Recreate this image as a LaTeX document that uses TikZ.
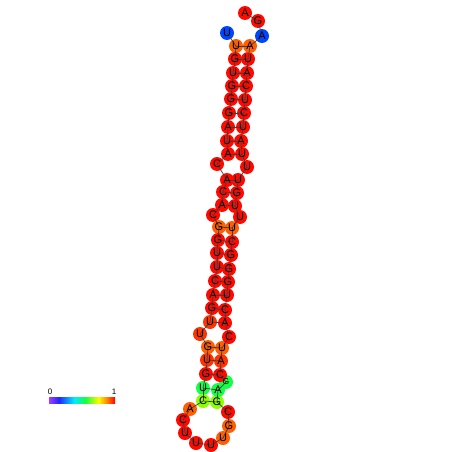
\documentclass[tikz,border=0pt]{standalone}
\usepackage{fontspec}
\setmainfont{Liberation Sans}
\definecolor{pR}{RGB}{255,10,0}
\definecolor{pRo}{RGB}{255,50,0}
\definecolor{pO}{RGB}{255,95,0}
\definecolor{pG}{RGB}{20,255,70}
\definecolor{pY}{RGB}{140,255,0}
\definecolor{pB}{RGB}{0,70,255}
\definecolor{cbP}{RGB}{165,60,255}
\definecolor{cbB}{RGB}{30,40,255}
\definecolor{cbC}{RGB}{0,235,255}
\definecolor{cbG}{RGB}{20,255,60}
\definecolor{cbY}{RGB}{255,250,0}
\definecolor{cbO}{RGB}{255,130,0}
\definecolor{cbR}{RGB}{255,0,0}
\pgfdeclarehorizontalshading{probbar}{100bp}{color(0bp)=(cbP); color(25bp)=(cbP);
  color(32.5bp)=(cbB); color(44bp)=(cbC); color(52.5bp)=(cbG); color(62.5bp)=(cbY);
  color(69bp)=(cbO); color(75bp)=(cbR); color(100bp)=(cbR)}
\tikzset{
  nuc/.style={circle, inner sep=0pt, minimum size=14pt},
  base/.style={inner sep=0pt, font=\fontsize{11}{12}\selectfont},
  bond/.style={black!75, line width=0.7pt},
  barlabel/.style={inner sep=0pt, font=\fontsize{8}{9}\selectfont}
}
\def\nucs{1/U/227/33/pB, 2/U/236/46/pO, 3/G/235/59/pR, 4/U/233/73/pR,
  5/G/232/86/pR, 6/G/231/99/pR, 7/G/229/113/pR, 8/A/228/127/pR,
  9/U/227/141/pR, 10/A/228/154/pR, 11/C/217/164/pR, 12/A/227/180/pR,
  13/C/223/192/pR, 14/A/222/205/pR, 15/C/213/215/pR, 16/G/219/227/pO,
  17/G/218/240/pR, 18/U/217/253/pR, 19/U/217/267/pR, 20/C/215/281/pR,
  21/A/213/295/pR, 22/G/212/308/pR, 23/U/210/322/pRo, 24/U/200/334/pRo,
  25/G/208/347/pO, 26/U/207/360/pRo, 27/G/206/374/pR, 28/U/203/388/pG,
  29/C/203/401/pY, 30/A/190/409/pO, 31/C/183/420/pR, 32/U/185/433/pR,
  33/U/196/443/pR, 34/U/211/445/pR, 35/U/223/438/pO, 36/G/229/426/pO,
  37/C/228/412/pR, 38/G/217/402/pY, 39/A/218/390/pG, 40/G/226/382/pG,
  41/C/220/375/pR, 42/A/221/361/pRo, 43/U/222/348/pO, 44/C/229/337/pR,
  45/A/225/323/pR, 46/C/225/310/pR, 47/U/227/295/pR, 48/G/228/282/pR,
  49/G/229/269/pR, 50/G/231/255/pR, 51/C/232/242/pR, 52/U/232/228/pO,
  53/U/240/217/pR, 54/U/235/206/pR, 55/G/237/193/pR, 56/U/238/180/pR,
  57/U/247/167/pR, 58/U/242/154/pR, 59/A/241/141/pR, 60/U/243/127/pR,
  61/C/244/113/pR, 62/U/245/100/pR, 63/C/246/86/pR, 64/A/247/73/pR,
  65/U/248/59/pR, 66/A/250/46/pO, 67/A/262/36/pB, 68/G/258/21/pR,
  69/A/245/13/pR}
\begin{document}
\begin{tikzpicture}[x=1pt,y=-1pt]
\useasboundingbox (0,0) rectangle (452,452);

% nucleotide discs
\foreach \i/\b/\x/\y/\c in \nucs
  \node[nuc, fill=\c] (n\i) at (\x,\y) {};

% backbone
\foreach \i [evaluate=\i as \j using int(\i+1)] in {1,...,68}
  \draw[bond] (n\i.center) -- (n\j.center);

% base pairs
\foreach \i/\j in {2/66,3/65,4/64,5/63,6/62,7/61,8/60,9/59,10/58,
  12/56,13/55,14/54,16/52,17/51,18/50,19/49,20/48,21/47,22/46,23/45,
  25/43,26/42,27/41,28/39,29/38}
  \draw[bond] (n\i.center) -- (n\j.center);

% letters (the squeezed bulge G is set a little smaller)
\foreach \i/\b/\x/\y/\c in \nucs {
  \ifnum\i=40
    \node[base, font=\fontsize{8.5}{9}\selectfont] (b\i) at (n\i) {\b};
  \else
    \node[base] (b\i) at (n\i) {\b};
  \fi
}

% probability scale
\shade[shading=probbar] (49,397) rectangle (115,403);
\node[barlabel] (lo) at (50,392) {0};
\node[barlabel] (hi) at (114,392) {1};
\end{tikzpicture}
\end{document}
